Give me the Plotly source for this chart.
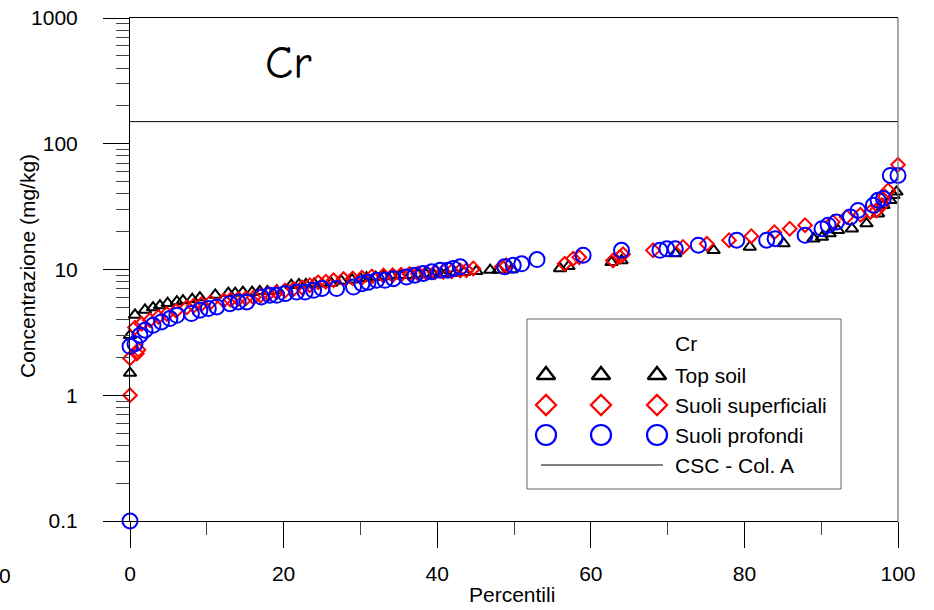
import plotly.graph_objects as go

# ---------------- data ----------------
top_soil_pct = [0, 0, 0.65, 1.95, 3.0, 3.9, 4.9, 6.1, 6.9, 8.1, 9.1, 11.1, 12.8, 13.7, 14.7, 15.9,
                16.9, 17.9, 19.1, 21.0, 22.0, 22.9, 24.0, 25.0, 26.2, 27.5, 28.9, 30.0, 30.8, 32.0,
                33.0, 34.1, 35.2, 36.5, 37.5, 38.5, 39.5, 40.5, 41.2, 42.3, 43.5, 45.1, 46.9, 48.0,
                49.7, 56.0, 57.1, 62.7, 64.0, 71.0, 76.0, 80.7, 85.1, 89.0, 90.1, 91.1, 92.2, 94.0,
                95.9, 97.4, 98.1, 99.0, 99.4, 99.8]
top_soil_val = [1.5, 3.0, 4.35, 4.77, 4.98, 5.17, 5.39, 5.56, 5.66, 5.8, 5.98, 6.28, 6.5, 6.5, 6.6, 6.6,
                6.7, 6.7, 6.8, 7.5, 7.6, 7.6, 7.7, 7.7, 7.8, 8.1, 8.3, 8.5, 8.6, 8.7,
                8.8, 8.9, 9.0, 9.0, 9.1, 9.2, 9.2, 9.3, 9.3, 9.4, 9.5, 9.7, 9.9, 9.9,
                10.0, 10.2, 10.6, 11.4, 11.8, 13.4, 14.2, 15.1, 16.1, 17.6, 18.1, 19.3, 20.5, 21.1,
                23.2, 27.8, 32.4, 35.5, 38.9, 41.5]

sup_pct = [0, 0, 0.9, 1.1, 0.65, 1.5, 2.6, 3.7, 4.8, 6.0, 7.4, 8.3, 9.3, 10.5, 12.2, 13.1, 14.1,
           15.1, 16.1, 17.0, 18.0, 19.1, 20.2, 21.3, 22.4, 23.4, 24.5, 25.5, 26.5, 27.8, 29.0,
           30.2, 31.5, 33.0, 34.2, 35.3, 36.4, 37.5, 38.6, 39.7, 40.8, 41.9, 43.0, 43.8, 44.7,
           48.4, 49.0, 56.6, 57.7, 58.5, 62.9, 63.8, 64.2, 68.1, 72.0, 75.1, 78.0, 80.9, 83.9,
           85.9, 87.9, 91.5, 93.3, 95.1, 96.4, 97.2, 97.9, 98.3, 98.7, 100]
sup_val = [1.0, 1.97, 2.15, 2.3, 3.45, 3.7, 3.95, 4.2, 4.43, 4.7, 5.0, 5.15, 5.3, 5.5, 5.66, 5.75, 5.82,
           5.9, 6.0, 6.2, 6.38, 6.6, 6.8, 7.0, 7.2, 7.5, 7.9, 8.0, 8.2, 8.4, 8.5,
           8.6, 8.8, 8.95, 9.0, 9.1, 9.2, 9.3, 9.4, 9.5, 9.6, 9.7, 9.8, 9.85, 10.2,
           10.5, 10.8, 11.1, 12.2, 12.5, 11.8, 12.6, 13.2, 14.2, 15.1, 16.0, 17.1, 18.4, 19.8,
           21.1, 22.5, 23.9, 26.2, 27.2, 28.7, 29.5, 32.5, 38.0, 42.5, 68.0]

prof_pct = [0, 0, 0.65, 1.3, 1.95, 3.0, 4.1, 5.2, 6.1, 8.0, 9.1, 10.2, 11.3, 13.0, 14.1, 15.2, 17.1,
            18.2, 19.1, 20.2, 21.7, 22.8, 23.9, 25.0, 26.9, 29.1, 30.2, 31.0, 32.1, 33.2, 34.3,
            36.0, 37.1, 38.2, 39.3, 40.4, 41.4, 42.1, 43.0, 48.8, 49.9, 51.0, 53.0, 59.0, 64.0,
            69.0, 69.9, 71.0, 74.0, 79.0, 82.9, 84.0, 87.9, 90.1, 90.9, 92.0, 93.8, 94.8, 96.8,
            97.4, 98.1, 99.0, 100]
prof_val = [0.1, 2.45, 2.57, 3.0, 3.29, 3.6, 3.83, 4.07, 4.32, 4.46, 4.74, 4.89, 5.04, 5.35, 5.52, 5.52, 6.05,
            6.23, 6.23, 6.43, 6.62, 6.62, 6.83, 7.05, 7.05, 7.25, 7.7, 7.9, 8.2, 8.2, 8.45,
            8.7, 9.0, 9.3, 9.6, 9.85, 9.85, 10.2, 10.5, 10.5, 10.8, 11.1, 12.0, 13.0, 14.2,
            14.2, 14.6, 14.6, 15.6, 17.1, 17.1, 17.6, 18.7, 21.1, 22.5, 23.9, 26.2, 29.5, 32.4,
            35.5, 36.7, 56.0, 56.0]

csc_pct = [0, 100]
csc_val = [150, 150]

x_ticks = [0, 20, 40, 60, 80, 100]
x_minor = [10, 30, 50, 70, 90]
y_ticks = [0.1, 1, 10, 100, 1000]
y_ticktext = ["0.1", "1", "10", "100", "1000"]
y_minor = [m * d for d in (0.1, 1, 10, 100) for m in range(2, 10)]

series_names = ["Top soil", "Suoli superficiali", "Suoli profondi"]
legend_title = "Cr"
csc_name = "CSC - Col. A"

# ---------------- layout geometry (pixels) ----------------
W, H = 934, 610
L, R, T, B = 130, 898, 18, 521
FONT = "Arial, Liberation Sans, sans-serif"


def xp(px):
    return (px - L) / (R - L)


def yp(py):
    return (B - py) / (B - T)


styles = [
    dict(symbol="triangle-up-open", color="black", size=11, lw=2, lsize=16, lw_leg=2.5),
    dict(symbol="diamond-open", color="#ff0000", size=10.5, lw=2, lsize=15.5, lw_leg=2.2),
    dict(symbol="circle-open", color="#0000ff", size=15, lw=2, lsize=20, lw_leg=2.2),
]

fig = go.Figure()

fig.add_trace(go.Scatter(x=csc_pct, y=csc_val, mode="lines",
                         line=dict(color="black", width=1), showlegend=False, hoverinfo="skip"))

for (px_, vy), st in zip([(top_soil_pct, top_soil_val), (sup_pct, sup_val), (prof_pct, prof_val)], styles):
    fig.add_trace(go.Scatter(
        x=px_, y=vy, mode="markers", cliponaxis=False, showlegend=False,
        marker=dict(symbol=st["symbol"], size=st["size"], color=st["color"],
                    line=dict(color=st["color"], width=st["lw"]))))

# ---------------- custom legend (pixel coordinates on overlay axes) ----------------
leg_box = (527, 319, 841, 489)
leg_marker_x = [546, 601, 657]
leg_rows_y = [375, 405, 435]
leg_text_x = 673
csc_row_y = 465

for st, ry in zip(styles, leg_rows_y):
    fig.add_trace(go.Scatter(
        x=leg_marker_x, y=[ry] * len(leg_marker_x), xaxis="x2", yaxis="y2",
        mode="markers", cliponaxis=False, showlegend=False, hoverinfo="skip",
        marker=dict(symbol=st["symbol"], size=st["lsize"], color=st["color"],
                    line=dict(color=st["color"], width=st["lw_leg"]))))

shapes = [
    dict(type="rect", xref="x2", yref="y2", x0=leg_box[0], y0=leg_box[1], x1=leg_box[2], y1=leg_box[3],
         line=dict(color="#666666", width=1), fillcolor="white", layer="below"),
    dict(type="line", xref="x2", yref="y2", x0=541, x1=663, y0=csc_row_y, y1=csc_row_y,
         line=dict(color="black", width=1)),
    # right frame line
    dict(type="line", xref="paper", yref="paper", x0=1, x1=1, y0=0, y1=1,
         line=dict(color="#777777", width=1.3)),
]

annotations = [
    dict(text=legend_title, x=leg_text_x, y=343, xref="x2", yref="y2", xanchor="left", yanchor="middle",
         showarrow=False, font=dict(family=FONT, size=21, color="black")),
]
for name, ry in zip(series_names, leg_rows_y):
    annotations.append(dict(text=name, x=leg_text_x, y=ry, xref="x2", yref="y2", xanchor="left",
                            yanchor="middle", showarrow=False, font=dict(family=FONT, size=21, color="black")))
annotations.append(dict(text=csc_name, x=leg_text_x, y=csc_row_y, xref="x2", yref="y2", xanchor="left",
                        yanchor="middle", showarrow=False, font=dict(family=FONT, size=21, color="black")))

# chart title, axis titles, stray label
annotations += [
    dict(text="Cr", x=xp(288), y=yp(64), xref="paper", yref="paper", showarrow=False,
         xanchor="center", yanchor="middle",
         font=dict(family="Comic Sans MS, Comic Neue, DejaVu Sans, sans-serif", size=46, color="black")),
    dict(text="Concentrazione (mg/kg)", x=xp(27), y=yp(266), xref="paper", yref="paper", showarrow=False,
         textangle=-90, xanchor="center", yanchor="middle", font=dict(family=FONT, size=21, color="black")),
    dict(text="Percentili", x=xp(512), y=yp(594), xref="paper", yref="paper", showarrow=False,
         xanchor="center", yanchor="middle", font=dict(family=FONT, size=21, color="black")),
    dict(text="0", x=xp(13), y=yp(575), xref="paper", yref="paper", showarrow=False,
         xanchor="right", yanchor="middle", font=dict(family=FONT, size=21, color="black")),
]

fig.update_layout(
    width=W, height=H,
    margin=dict(l=L, r=W - R, t=T, b=H - B, pad=0, autoexpand=False),
    paper_bgcolor="white", plot_bgcolor="white",
    showlegend=False,
    font=dict(family=FONT, size=21, color="black"),
    xaxis=dict(range=[0, 100], showgrid=False, zeroline=False, showline=True, linecolor="black",
               linewidth=1, mirror=True, ticks="outside", ticklen=26, tickwidth=1, tickcolor="black",
               tickmode="array", tickvals=x_ticks, ticklabelstandoff=8, automargin=False,
               tickfont=dict(family=FONT, size=21, color="black"),
               minor=dict(tickmode="array", tickvals=x_minor, ticks="outside", ticklen=13,
                          tickcolor="#444444", tickwidth=1, showgrid=False)),
    yaxis=dict(type="log", range=[-1, 3], showgrid=False, zeroline=False, showline=True, linecolor="black",
               linewidth=1, ticks="outside", ticklen=26, tickwidth=1, tickcolor="black",
               tickmode="array", tickvals=y_ticks, ticktext=y_ticktext, ticklabelstandoff=21,
               automargin=False,
               tickfont=dict(family=FONT, size=21, color="black"),
               minor=dict(tickmode="array", tickvals=y_minor, ticks="outside", ticklen=13,
                          tickcolor="#444444", tickwidth=1, showgrid=False)),
    xaxis2=dict(overlaying="x", range=[L, R], visible=False, anchor="y2"),
    yaxis2=dict(overlaying="y", range=[B, T], visible=False, anchor="x2"),
    shapes=shapes,
    annotations=annotations,
)

fig.write_html("out.html")
